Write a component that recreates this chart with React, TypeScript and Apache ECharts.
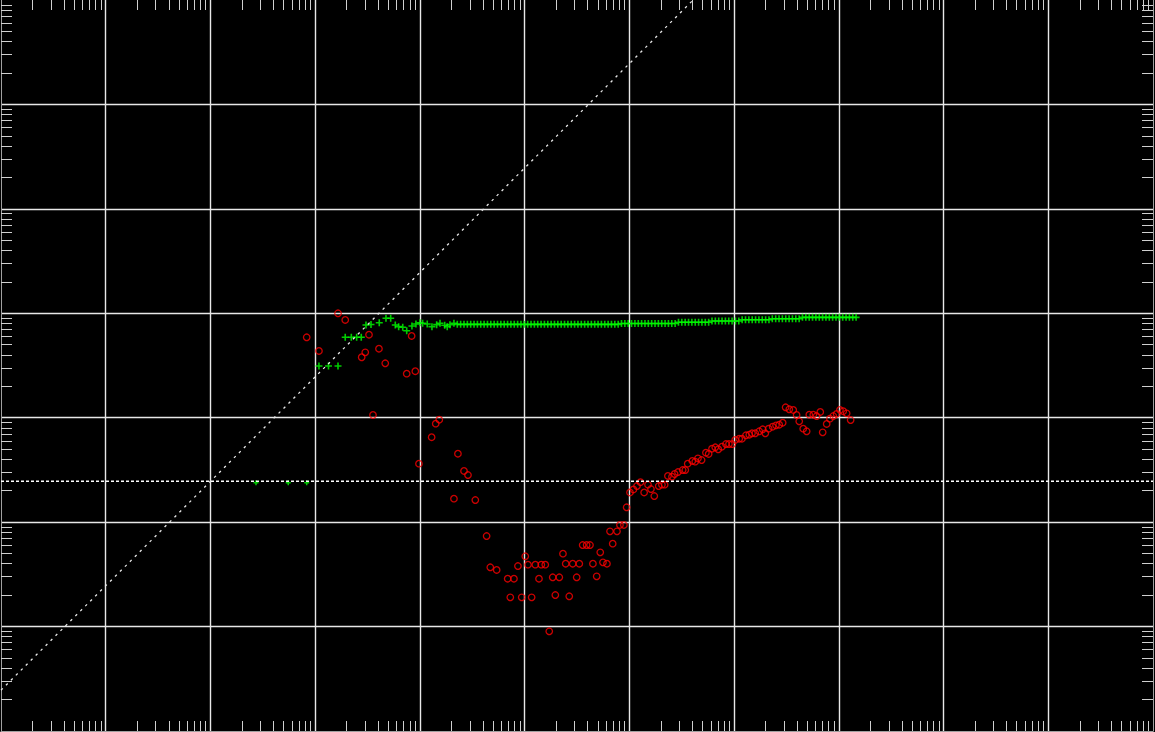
import React, { useEffect, useRef } from 'react';
import * as echarts from 'echarts';

// Axis ranges (log10 decades)
const xDecadeExps = [0, 1, 2, 3, 4, 5, 6, 7, 8, 9, 10, 11];
const yDecadeExps = [0, 1, 2, 3, 4, 5, 6, 7];
const minorMultipliers = [2, 3, 4, 5, 6, 7, 8, 9];

// Green "+" series (log10 of x and y)
const greenLogX = [
  3.036, 3.127, 3.218, 3.287, 3.345, 3.396, 3.44, 3.485, 3.533, 3.612, 3.676, 3.721, 3.765, 3.797,
  3.836, 3.874, 3.924, 3.962, 4.001, 4.026, 4.07, 4.115, 4.16, 4.192, 4.237, 4.261, 4.287, 4.325,
  4.357, 4.389, 4.421, 4.453, 4.485, 4.517, 4.549, 4.581, 4.613, 4.645,
  4.677, 4.709, 4.741, 4.773, 4.805, 4.837, 4.869, 4.901, 4.933, 4.965,
  4.997, 5.029, 5.061, 5.093, 5.125, 5.157, 5.189, 5.221, 5.253, 5.285,
  5.317, 5.349, 5.381, 5.413, 5.445, 5.477, 5.509, 5.541, 5.573, 5.605,
  5.637, 5.669, 5.701, 5.733, 5.765, 5.797, 5.829, 5.861, 5.893,
  5.925, 5.957, 5.989, 6.021, 6.053, 6.085, 6.117, 6.149, 6.181, 6.213, 6.245, 6.277, 6.309, 6.341,
  6.373, 6.405, 6.437,
  6.469, 6.501, 6.533, 6.565, 6.597, 6.629, 6.661, 6.693, 6.725, 6.757,
  6.789, 6.821, 6.853, 6.885, 6.917, 6.949, 6.981, 7.013, 7.045,
  7.077, 7.109, 7.141, 7.173, 7.205, 7.237, 7.269, 7.301, 7.333,
  7.365, 7.397, 7.429, 7.461, 7.493, 7.525, 7.557, 7.589, 7.621,
  7.653, 7.685, 7.717, 7.749, 7.781, 7.813, 7.845, 7.877, 7.909, 7.941, 7.973, 8.005, 8.037, 8.069,
  8.101, 8.133, 8.165,
];
const greenLogY = [
  3.495, 3.495, 3.495, 3.77, 3.77, 3.77, 3.77, 3.888, 3.893, 3.91, 3.952, 3.952, 3.888, 3.872,
  3.866, 3.833, 3.878, 3.897, 3.91, 3.904, 3.897, 3.872, 3.891, 3.904, 3.885, 3.872, 3.891, 3.904,
  3.894, 3.894, 3.894, 3.894, 3.894, 3.894, 3.894, 3.894, 3.894, 3.894,
  3.894, 3.894, 3.894, 3.894, 3.894, 3.894, 3.894, 3.894, 3.894, 3.894,
  3.894, 3.894, 3.894, 3.894, 3.894, 3.894, 3.894, 3.894, 3.894, 3.894,
  3.894, 3.894, 3.894, 3.894, 3.894, 3.894, 3.894, 3.894, 3.894, 3.894,
  3.894, 3.894, 3.894, 3.894, 3.894, 3.894, 3.894, 3.894, 3.894,
  3.902, 3.902, 3.902, 3.902, 3.902, 3.902, 3.902, 3.902, 3.902, 3.902, 3.902, 3.902, 3.902, 3.902,
  3.902, 3.902, 3.902,
  3.914, 3.914, 3.914, 3.914, 3.914, 3.914, 3.914, 3.914, 3.914, 3.914,
  3.926, 3.926, 3.926, 3.926, 3.926, 3.926, 3.926, 3.926, 3.926,
  3.938, 3.938, 3.938, 3.938, 3.938, 3.938, 3.938, 3.938, 3.938,
  3.947, 3.947, 3.947, 3.947, 3.947, 3.947, 3.947, 3.947, 3.947,
  3.961, 3.961, 3.961, 3.961, 3.961, 3.961, 3.961, 3.961, 3.961, 3.961, 3.961, 3.961, 3.961, 3.961,
  3.961, 3.961, 3.961,
];

// Small green markers on the horizontal reference line
const greenSmallLogX = [2.435, 2.743, 2.919];
const greenSmallLogY = [2.378, 2.378, 2.378];

// Red circle series (log10 of x and y)
const redLogX = [
  2.919, 3.036, 3.218, 3.287, 3.444, 3.478, 3.514, 3.552, 3.609, 3.669, 3.874, 3.921, 3.956, 3.991,
  4.112, 4.151, 4.185, 4.325, 4.363, 4.421, 4.459, 4.529, 4.637, 4.672, 4.733, 4.838, 4.863, 4.898,
  4.936, 4.972, 5.006, 5.032, 5.067, 5.102, 5.137, 5.159, 5.197, 5.235, 5.268, 5.293, 5.331, 5.366,
  5.392, 5.426, 5.459, 5.497, 5.522, 5.554, 5.592, 5.624, 5.652, 5.688, 5.722, 5.748, 5.786, 5.815,
  5.841, 5.882, 5.91, 5.948, 5.974, 6.006, 6.039, 6.073, 6.106, 6.141, 6.178, 6.206, 6.238, 6.28,
  6.311, 6.337, 6.368, 6.407, 6.432, 6.464, 6.509, 6.534, 6.557, 6.601, 6.629, 6.655, 6.69, 6.731,
  6.757, 6.789, 6.82, 6.849, 6.884, 6.922, 6.951, 6.983, 7.011, 7.049, 7.075, 7.113, 7.145, 7.171,
  7.202, 7.24, 7.273, 7.298, 7.33, 7.368, 7.4, 7.431, 7.464, 7.492, 7.527, 7.565, 7.597, 7.622,
  7.66, 7.693, 7.718, 7.756, 7.788, 7.823, 7.846, 7.884, 7.915, 7.947, 7.979, 8.011, 8.042, 8.075,
  8.113,
];
const redLogY = [
  3.77, 3.639, 4.0, 3.936, 3.579, 3.626, 3.795, 3.026, 3.661, 3.521, 3.422, 3.783, 3.445, 2.56,
  2.813, 2.943, 2.981, 2.225, 2.655, 2.49, 2.451, 2.212, 1.867, 1.568, 1.542, 1.458, 1.28, 1.458,
  1.58, 1.28, 1.673, 1.593, 1.28, 1.593, 1.458, 1.593, 1.593, 0.955, 1.472, 1.302, 1.472, 1.698,
  1.602, 1.29, 1.602, 1.472, 1.602, 1.781, 1.781, 1.781, 1.602, 1.481, 1.711, 1.615, 1.602, 1.912,
  1.794, 1.912, 1.973, 1.973, 2.142, 2.284, 2.313, 2.346, 2.383, 2.284, 2.359, 2.317, 2.25, 2.346,
  2.359, 2.359, 2.442, 2.435, 2.461, 2.48, 2.499, 2.499, 2.56, 2.586, 2.579, 2.611, 2.595, 2.665,
  2.653, 2.703, 2.717, 2.698, 2.722, 2.748, 2.748, 2.748, 2.787, 2.799, 2.799, 2.832, 2.837, 2.851,
  2.851, 2.87, 2.889, 2.851, 2.895, 2.914, 2.927, 2.933, 2.952, 3.1, 3.081, 3.074, 3.026, 2.966,
  2.895, 2.87, 3.029, 3.029, 3.016, 3.055, 2.86, 2.94, 2.991, 3.016, 3.036, 3.074, 3.062, 3.042,
  2.978,
];

// Reference lines
const horizontalRefY = 246;
const diagonalFactor = 2.46; // y = 2.46 * x

const pow10 = (e: number) => Math.pow(10, e);
const toPoints = (xs: number[], ys: number[]) => xs.map((x, i) => [pow10(x), pow10(ys[i])]);

const xMin = pow10(xDecadeExps[0]);
const xMax = pow10(xDecadeExps[xDecadeExps.length - 1]);
const yMin = pow10(yDecadeExps[0]);
const yMax = pow10(yDecadeExps[yDecadeExps.length - 1]);

const minorOf = (exps: number[]) => {
  const out: number[] = [];
  for (let i = 0; i < exps.length - 1; i++) {
    for (const m of minorMultipliers) out.push(m * pow10(exps[i]));
  }
  return out;
};
const majorOf = (exps: number[]) => exps.slice(1, -1).map(pow10);

const PLUS = 'path://M5,0L5,10M0,5L10,5';

export default function App() {
  const ref = useRef<HTMLDivElement>(null);
  useEffect(() => {
    if (!ref.current) return;
    const chart = echarts.init(ref.current, undefined, { renderer: 'svg' });
    const minorX = minorOf(xDecadeExps);
    const minorY = minorOf(yDecadeExps);
    const majorX = majorOf(xDecadeExps);
    const majorY = majorOf(yDecadeExps);
    const edgeLine = { show: true, lineStyle: { color: '#a0a0a0', width: 1 } };
    const tickStyle = { color: '#d0d0d0', width: 1 };
    const gridLine = { show: true, lineStyle: { color: '#e8e8e8', width: 1.4 } };

    const xBase = { type: 'log', logBase: 10, min: xMin, max: xMax, axisLabel: { show: false } };
    const yBase = { type: 'log', logBase: 10, min: yMin, max: yMax, axisLabel: { show: false } };

    chart.setOption({
      animation: false,
      backgroundColor: '#000',
      grid: { left: 1, right: 2, top: 0, bottom: 1, containLabel: false },
      xAxis: [
        { ...xBase, position: 'bottom', axisLine: edgeLine, splitLine: { show: false },
          axisTick: { show: true, inside: true, length: 10, customValues: minorX, lineStyle: tickStyle } },
        { ...xBase, position: 'top', axisLine: { show: false }, splitLine: { show: false },
          axisTick: { show: true, inside: true, length: 10, customValues: minorX, lineStyle: tickStyle } },
        { ...xBase, position: 'bottom', axisLine: { show: false }, splitLine: gridLine,
          axisTick: { show: false, customValues: majorX }, axisLabel: { show: false, customValues: majorX } },
      ],
      yAxis: [
        { ...yBase, position: 'left', axisLine: edgeLine, splitLine: { show: false },
          axisTick: { show: true, inside: true, length: 11, customValues: minorY, lineStyle: tickStyle } },
        { ...yBase, position: 'right', axisLine: edgeLine, splitLine: { show: false },
          axisTick: { show: true, inside: true, length: 11, customValues: minorY, lineStyle: tickStyle } },
        { ...yBase, position: 'left', axisLine: { show: false }, splitLine: gridLine,
          axisTick: { show: false, customValues: majorY }, axisLabel: { show: false, customValues: majorY } },
      ],
      series: [
        {
          type: 'line', xAxisIndex: 0, yAxisIndex: 0, symbol: 'none', silent: true,
          data: [[xMin, horizontalRefY], [xMax, horizontalRefY]],
          lineStyle: { color: '#ffffff', width: 1.6, type: [3, 2] },
        },
        {
          type: 'line', xAxisIndex: 0, yAxisIndex: 0, symbol: 'none', silent: true,
          data: [[xMin, diagonalFactor * xMin], [yMax / diagonalFactor, yMax]],
          lineStyle: { color: '#e8e8e8', width: 1.3, type: [2.5, 4.5] },
        },
        {
          type: 'scatter', xAxisIndex: 0, yAxisIndex: 0, symbol: PLUS, symbolSize: 7,
          data: toPoints(greenLogX, greenLogY),
          itemStyle: { color: '#00ff00', borderColor: '#00ff00', borderWidth: 1.6 },
        },
        {
          type: 'scatter', xAxisIndex: 0, yAxisIndex: 0, symbol: PLUS, symbolSize: 5,
          data: toPoints(greenSmallLogX, greenSmallLogY),
          itemStyle: { color: '#00ff00', borderColor: '#00ff00', borderWidth: 1.5 },
        },
        {
          type: 'scatter', xAxisIndex: 0, yAxisIndex: 0, symbol: 'circle', symbolSize: 6.5,
          data: toPoints(redLogX, redLogY),
          itemStyle: { color: 'rgba(0,0,0,0)', borderColor: '#ff0000', borderWidth: 1.3 },
        },
      ],
    } as any);
    return () => chart.dispose();
  }, []);
  return (
    <div
      ref={ref}
      style={{ position: 'fixed', left: 0, top: 0, width: 1155, height: 732, background: '#000' }}
    />
  );
}
